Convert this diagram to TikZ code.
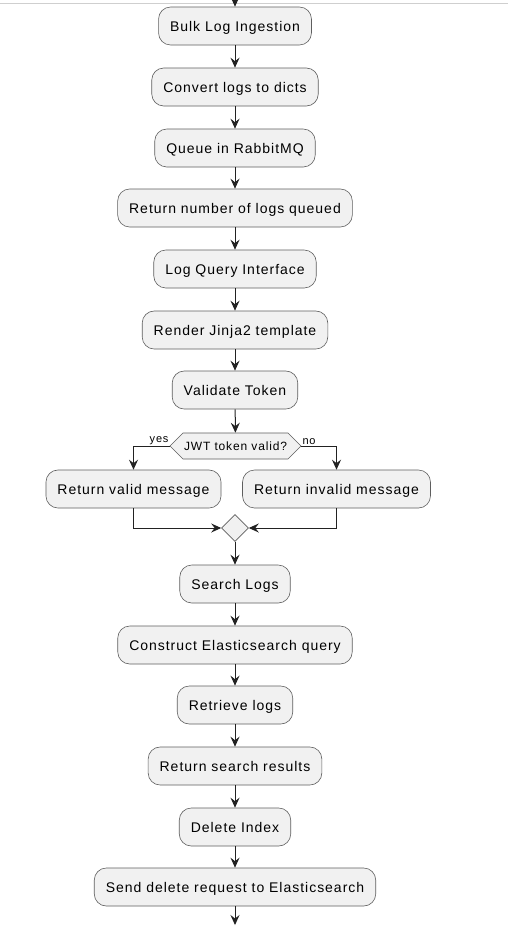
\documentclass[tikz,border=0pt]{standalone}
\usepackage{fontspec}
\setmainfont[LetterSpace=7]{Liberation Sans}
\usetikzlibrary{arrows.meta,shapes.geometric,shapes.symbols,positioning}
\definecolor{actfill}{HTML}{F1F1F1}
\definecolor{actline}{HTML}{5E5E5E}
\definecolor{flowline}{HTML}{222222}
\definecolor{topline}{HTML}{CFCFCF}

\begin{document}
\begin{tikzpicture}[x=1pt,y=-1pt,
    act/.style={draw=actline,fill=actfill,rounded corners=12pt,line width=0.6pt,
        minimum height=38pt,inner xsep=11.5pt,text height=10pt,text depth=0pt,
        font=\fontsize{14}{16}\selectfont},
    test/.style={draw=actline,fill=actfill,line width=0.6pt,signal,signal to=west and east,
        minimum height=26pt,inner xsep=1pt,inner ysep=0pt,text height=8.5pt,text depth=0pt,
        font=\fontsize{12}{14}\selectfont},
    merge/.style={draw=actline,fill=actfill,line width=0.6pt,diamond,minimum size=27pt,inner sep=0pt},
    lbl/.style={font=\fontsize{11}{12}\selectfont,inner sep=0pt},
    arr/.style={draw=flowline,line width=1pt,-{Stealth[length=10pt,width=9pt,inset=3.5pt]}}]

    \useasboundingbox (0,0) rectangle (508,926);
    \fill[white] (0,0) rectangle (508,926);
    \draw[topline,line width=1pt] (0,3) -- (508,3);

    % ingestion part
    \node[act] (bulk) at (235,26) {Bulk Log Ingestion};
    \node[act] (conv) at (235,87) {Convert logs to dicts};
    \node[act] (queue) at (235,148) {Queue in RabbitMQ};
    \node[act] (count) at (235,208) {Return number of logs queued};

    % query part
    \node[act] (query) at (235,269) {Log Query Interface};
    \node[act] (jinja) at (235,330) {Render Jinja2 template};
    \node[act] (token) at (235,390) {Validate Token};
    \node[test] (jwt) at (235.5,446) {JWT token valid?};
    \node[lbl,above left=1pt and 1pt of jwt.west] (yes) {yes};
    \node[lbl,above right=1pt and 1pt of jwt.east] (no) {no};
    \node[act] (okmsg) at (133.5,489) {Return valid message};
    \node[act] (badmsg) at (336.5,489) {Return invalid message};
    \node[merge] (join) at (235,528) {};

    % search and delete
    \node[act] (search) at (235,584) {Search Logs};
    \node[act] (esq) at (235,645) {Construct Elasticsearch query};
    \node[act] (fetch) at (235,705) {Retrieve logs};
    \node[act] (results) at (235,766) {Return search results};
    \node[act] (delidx) at (235,827) {Delete Index};
    \node[act] (delreq) at (235,887) {Send delete request to Elasticsearch};

    \coordinate (start) at (235,-6);
    \coordinate (finish) at (235,925);

    \draw[arr] (start) -- (bulk);
    \draw[arr] (bulk) -- (conv);
    \draw[arr] (conv) -- (queue);
    \draw[arr] (queue) -- (count);
    \draw[arr] (count) -- (query);
    \draw[arr] (query) -- (jinja);
    \draw[arr] (jinja) -- (token);
    \draw[arr] (token) -- (jwt);
    \draw[arr] (jwt.west) -| (okmsg.north);
    \draw[arr] (jwt.east) -| (badmsg.north);
    \draw[arr] (okmsg.south) |- (join.west);
    \draw[arr] (badmsg.south) |- (join.east);
    \draw[arr] (join) -- (search);
    \draw[arr] (search) -- (esq);
    \draw[arr] (esq) -- (fetch);
    \draw[arr] (fetch) -- (results);
    \draw[arr] (results) -- (delidx);
    \draw[arr] (delidx) -- (delreq);
    \draw[arr] (delreq) -- (finish);

\end{tikzpicture}
\end{document}
